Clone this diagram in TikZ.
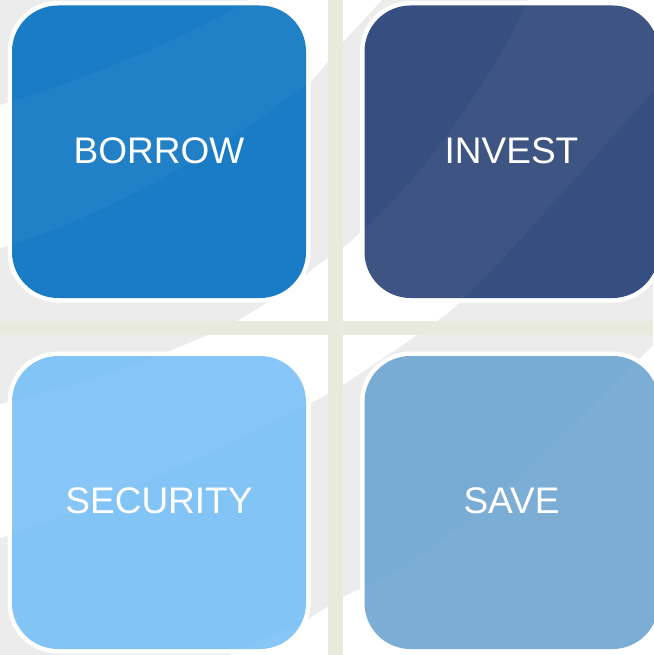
\documentclass[tikz,border=0pt]{standalone}
\usepackage{fontspec}
\setmainfont{Liberation Sans}
\definecolor{bggray}{RGB}{236,236,236}
\definecolor{barcol}{RGB}{233,234,222}
\definecolor{borrowcol}{RGB}{26,124,196}
\definecolor{investcol}{RGB}{55,79,128}
\definecolor{securitycol}{RGB}{131,196,246}
\definecolor{savecol}{RGB}{120,172,212}
\newcommand\drawbands[1]{%
  \fill[#1] (0,105) .. controls (100,75) and (190,35) .. (250,0) -- (382,0)
    .. controls (365,18) and (350,35) .. (342,43)
    .. controls (330,58) and (322,70) .. (312,80)
    .. controls (220,150) and (110,215) .. (0,248) -- cycle;
  \fill[#1] (0,404) .. controls (80,385) and (170,355) .. (237,321)
    .. controls (275,300) and (310,270) .. (342,248)
    .. controls (350,242) and (355,238) .. (360,233)
    .. controls (430,170) and (490,80) .. (529,0) -- (653,0) -- (653,92)
    .. controls (590,160) and (510,255) .. (458,304)
    .. controls (440,320) and (425,330) .. (392,352)
    .. controls (365,370) and (340,388) .. (317,400)
    .. controls (220,450) and (100,505) .. (0,538) -- cycle;
  \fill[#1] (230,655) .. controls (260,640) and (290,628) .. (307,620)
    .. controls (330,605) and (345,595) .. (363,588)
    .. controls (390,575) and (420,558) .. (443,540)
    .. controls (520,480) and (600,400) .. (653,345) -- (653,655) -- cycle;
}
\tikzset{
  tileborder/.style={fill=white, rounded corners=50.5pt},
  tilebody/.style={rounded corners=46pt},
  label/.style={text=white, font=\fontsize{37}{44}\selectfont, inner sep=0pt}
}
\begin{document}
\begin{tikzpicture}[x=1pt,y=-1pt]
\useasboundingbox (0,0) rectangle (653,655);
% background
\fill[bggray] (0,0) rectangle (653,655);
\drawbands{white}
% cross bars
\fill[barcol] (328,0) rectangle (342.5,655);
\fill[barcol] (0,321) rectangle (653,335);
% tile borders
\fill[tileborder] (7.5,1) rectangle (310.5,302.5);
\fill[tileborder] (360,1) rectangle (663,302.5);
\fill[tileborder] (7.5,351.5) rectangle (310.5,653.5);
\fill[tileborder] (360,351.5) rectangle (663,653.5);
% tiles
\fill[tilebody, borrowcol] (12,5.5) rectangle (306,298);
\fill[tilebody, investcol] (364.5,5.5) rectangle (658.5,298);
\fill[tilebody, securitycol] (12,356) rectangle (306,649);
\fill[tilebody, savecol] (364.5,356) rectangle (658.5,649);
% subtle sheen inside tiles
\begin{scope}
\clip[tilebody] (12,5.5) rectangle (306,298)
  (364.5,5.5) rectangle (658.5,298)
  (12,356) rectangle (306,649)
  (364.5,356) rectangle (658.5,649);
\drawbands{white, opacity=0.035}
\end{scope}
% labels
\node[label] (borrow) at (159,150.5) {BORROW};
\node[label] (invest) at (511.5,150.5) {INVEST};
\node[label] (security) at (159,500.5) {SECURITY};
\node[label] (save) at (511.5,500.5) {SAVE};
\end{tikzpicture}
\end{document}
